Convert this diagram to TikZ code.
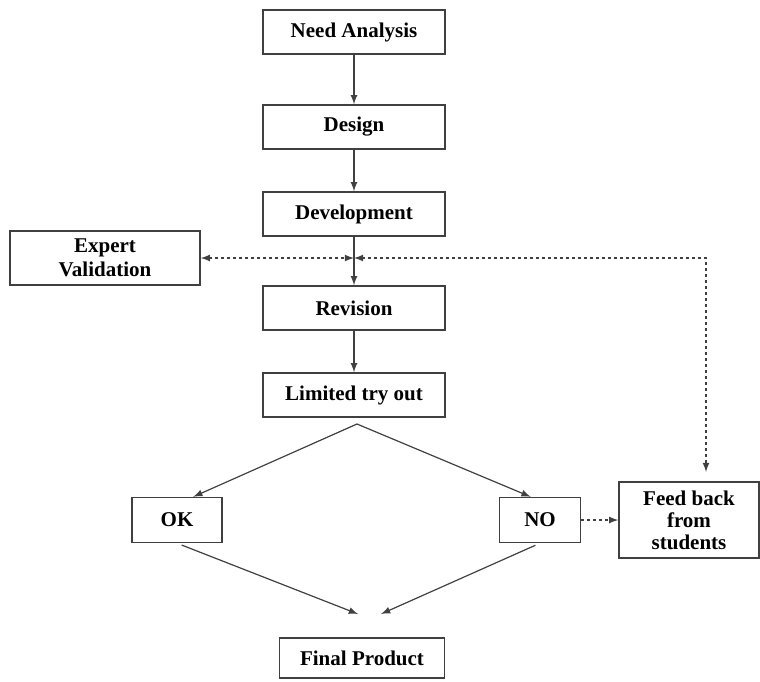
\documentclass[tikz,border=0pt]{standalone}
\usepackage{fontspec}
\setmainfont{Liberation Serif}
\usetikzlibrary{arrows,calc}
\tikzset{>=latex}
\tikzstyle{stage}=[rectangle,draw=black!75,line width=0.7pt,minimum height=22pt,minimum width=91pt,font=\fontsize{10.5}{12}\selectfont\bfseries]
\tikzstyle{small}=[rectangle,draw=black!75,line width=0.7pt,minimum height=22.5pt,font=\fontsize{10.5}{12}\selectfont\bfseries,align=center]
\tikzstyle{flow}=[draw=black!75,line width=0.6pt]
\tikzstyle{loop}=[draw=black!75,line width=0.6pt,dash pattern=on 1.5pt off 1.5pt]

\begin{document}
\begin{tikzpicture}[x=0.5pt,y=-0.5pt,inner sep=1mm]
	\useasboundingbox (0,0) rectangle (760,681);
	\node[stage] (need) at (354, 32) {Need Analysis};
	\node[stage] (design) at (354, 127) {Design};
	\node[stage] (devel) at (354, 214) {Development};
	\node[stage] (revision) at (354, 308) {Revision};
	\node[stage] (tryout) at (354, 395) {Limited try out};
	\node[small, minimum width=95pt, minimum height=27pt, inner sep=0pt] (expert) at (105, 258) {Expert\\[0pt]Validation};
	\node[small, minimum width=70pt, minimum height=38pt, inner sep=0pt] (feedback) at (689, 520) {Feed back\\[-1pt]from\\[-1pt]students};
	\node[small, minimum width=45pt] (ok) at (177, 520) {OK};
	\node[small, minimum width=40.5pt] (no) at (540, 520) {NO};
	\node[stage, minimum width=82.5pt, minimum height=20pt] (final) at (362, 658) {Final Product};
	\coordinate (junction) at (354, 258);
	\coordinate (corner) at (706, 258);
	\coordinate (drop) at (706, 472);
	\coordinate (split) at (357, 424);
	\coordinate (endok) at (358, 614);
	\coordinate (endno) at (381, 614);
	
	\draw[flow, ->] (need) -- (design);
	\draw[flow, ->] (design) -- (devel);
	\draw[flow, ->] (devel) -- (revision);
	\draw[flow, ->] (revision) -- (tryout);
	\draw[loop, <->] (expert) -- (junction);
	\draw[loop, <->] (junction) -- (corner) -- (drop);
	\draw[flow, ->] (split) -- (ok.55);
	\draw[flow, ->] (split) -- (no.112);
	\draw[loop, ->] (no) -- (feedback);
	\draw[flow, ->, shorten <=2.5pt] (ok.south) -- (endok);
	\draw[flow, ->, shorten <=2.5pt] (no.south) -- (endno);
\end{tikzpicture}
\end{document}
